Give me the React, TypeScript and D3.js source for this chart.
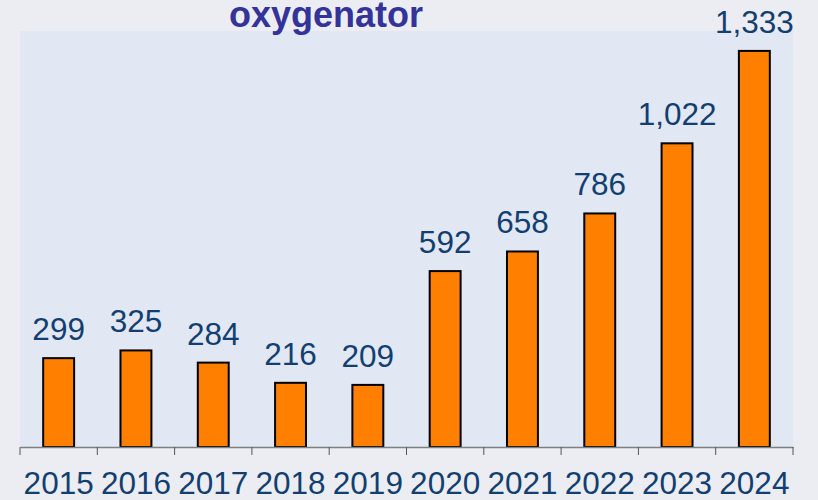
import React, { useRef, useEffect } from 'react';
import { select, scaleBand, scaleLinear, axisBottom, format } from 'd3';

const years = ['2015', '2016', '2017', '2018', '2019', '2020', '2021', '2022', '2023', '2024'];
const counts = [299, 325, 284, 216, 209, 592, 658, 786, 1022, 1333];
const title = 'oxygenator';

function App() {
    const ref = useRef(null);

    useEffect(() => {
        const width = 818;
        const height = 500;
        const left = 20, right = 793, top = 31, bottom = 447;

        const svg = select(ref.current);
        svg.selectAll('*').remove();

        svg.append('rect').attr('width', width).attr('height', height).attr('fill', '#ecedf3');
        svg.append('rect')
            .attr('x', left).attr('y', top)
            .attr('width', right - left).attr('height', bottom - top)
            .attr('fill', '#e1e8f4');

        const x = scaleBand()
            .domain(years)
            .range([left, right])
            .paddingInner(0.6)
            .paddingOuter(0.3);

        const y = scaleLinear()
            .domain([0, 1400])
            .range([bottom, top]);

        const fmt = format(',');

        svg.append('g').selectAll('rect')
            .data(counts)
            .enter()
            .append('rect')
            .attr('x', (d, i) => x(years[i]))
            .attr('y', d => y(d))
            .attr('width', x.bandwidth())
            .attr('height', d => bottom - y(d))
            .attr('fill', '#ff7f00')
            .attr('stroke', '#000')
            .attr('stroke-width', 2);

        svg.append('g').selectAll('text')
            .data(counts)
            .enter()
            .append('text')
            .attr('x', (d, i) => x(years[i]) + x.bandwidth() / 2)
            .attr('y', d => y(d) - 18)
            .attr('text-anchor', 'middle')
            .attr('font-family', 'Liberation Sans, Arial, sans-serif')
            .attr('font-size', 31.5)
            .attr('fill', '#123f70')
            .text(d => fmt(d));

        // axis: ticks sit on band edges, labels in band centers
        const axis = axisBottom(x).tickSize(0).tickPadding(0);
        const g = svg.append('g').attr('transform', `translate(0, ${bottom})`).call(axis);
        g.select('.domain').attr('stroke', '#7f7f7f').attr('stroke-width', 1.5);
        g.selectAll('.tick text')
            .attr('y', 47)
            .attr('dy', 0)
            .attr('font-family', 'Liberation Sans, Arial, sans-serif')
            .attr('font-size', 31.5)
            .attr('fill', '#123f70');

        const step = x.step();
        const edges = years.map((d, i) => left + i * step).concat([right]);
        svg.append('g').selectAll('line')
            .data(edges)
            .enter()
            .append('line')
            .attr('x1', d => d).attr('x2', d => d)
            .attr('y1', bottom).attr('y2', bottom + 8)
            .attr('stroke', '#555')
            .attr('stroke-width', 1);

        svg.append('text')
            .attr('x', 326)
            .attr('y', 27)
            .attr('text-anchor', 'middle')
            .attr('font-family', 'Liberation Sans, Arial, sans-serif')
            .attr('font-weight', 'bold')
            .attr('font-size', 36)
            .attr('fill', '#333399')
            .text(title);
    }, []);

    return (
        <svg ref={ref} width={818} height={500}
            style={{ position: 'absolute', left: 0, top: 0, display: 'block' }} />
    );
}

export default App;
